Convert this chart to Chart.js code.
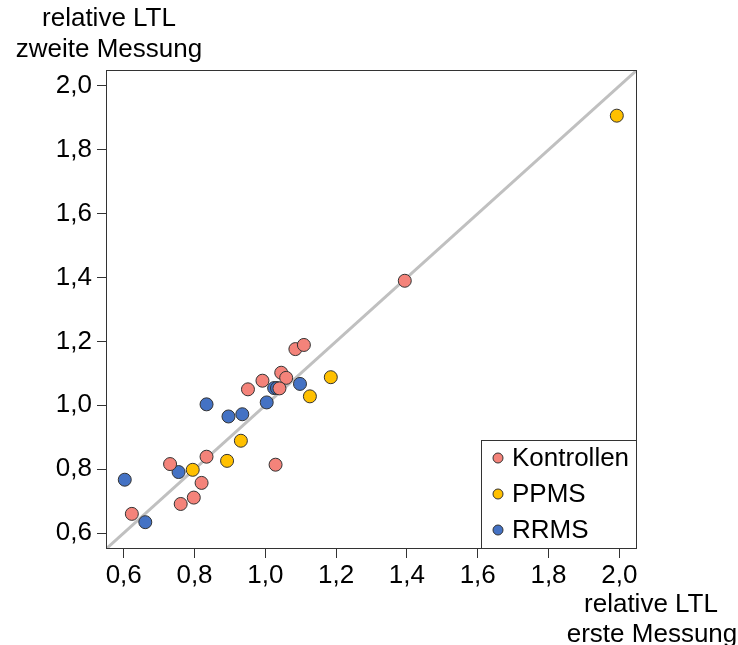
<!DOCTYPE html>
<html>
<head>
<meta charset="utf-8">
<script src="https://cdn.jsdelivr.net/npm/chart.js@4.4.1/dist/chart.umd.min.js"></script>
<style>
  html, body { margin: 0; padding: 0; background: #fff; }
  #wrap { width: 738px; height: 645px; }
</style>
</head>
<body>
<div id="wrap"><canvas id="myChart" width="738" height="645"></canvas></div>
<script>
// values
const kontrollenX = [1.394, 1.085, 1.109, 1.045, 1.059, 0.992, 0.951, 1.040, 0.731, 0.834, 1.029, 0.820, 0.798, 0.761, 0.623];
const kontrollenY = [1.390, 1.176, 1.189, 1.102, 1.086, 1.077, 1.050, 1.053, 0.816, 0.839, 0.814, 0.757, 0.711, 0.691, 0.660];
const ppmsX = [1.993, 1.185, 1.126, 0.931, 0.892, 0.795];
const ppmsY = [1.907, 1.088, 1.028, 0.889, 0.826, 0.798];
const rrmsX = [1.098, 1.025, 1.033, 1.004, 0.935, 0.896, 0.834, 0.755, 0.603, 0.661];
const rrmsY = [1.067, 1.054, 1.054, 1.009, 0.972, 0.965, 1.003, 0.791, 0.767, 0.634];
const seriesNames = ["Kontrollen", "PPMS", "RRMS"];
const seriesColors = ["#F4837A", "#FFC000", "#4472C4"];
const tickValues = [0.6, 0.8, 1.0, 1.2, 1.4, 1.6, 1.8, 2.0];
const axisMin = 0.55;
const axisMax = 2.05;
const diagonal = [axisMin, axisMax];

const FONT = "Liberation Sans, Arial, sans-serif";

function toPoints(xs, ys) {
  return xs.map(function(x, i) { return { x: x, y: ys[i] }; });
}

// frame, axis titles and legend box
const extras = {
  id: "extras",
  afterDraw: function(chart) {
    const ctx = chart.ctx;
    const a = chart.chartArea;
    ctx.save();
    ctx.strokeStyle = "#333";
    ctx.lineWidth = 1;
    ctx.strokeRect(a.left + 0.5, a.top + 0.5, a.right - a.left - 1, a.bottom - a.top - 1);

    ctx.fillStyle = "#000";
    ctx.font = "26px " + FONT;
    ctx.textBaseline = "middle";
    ctx.textAlign = "center";
    ctx.fillText("relative LTL", 109, 19);
    ctx.fillText("zweite Messung", 109, 50);
    ctx.fillText("relative LTL", 651, 605);
    ctx.fillText("erste Messung", 652, 635);

    // legend
    const lx = 481, ly = 440, lw = a.right - lx, lh = a.bottom - ly;
    ctx.fillStyle = "#fff";
    ctx.fillRect(lx, ly, lw, lh);
    ctx.strokeRect(lx + 0.5, ly + 0.5, lw - 1, lh - 1);
    seriesNames.forEach(function(name, i) {
      const cy = 458 + i * 36;
      ctx.beginPath();
      ctx.arc(498, cy, 5, 0, Math.PI * 2);
      ctx.fillStyle = seriesColors[i];
      ctx.fill();
      ctx.strokeStyle = "#333";
      ctx.stroke();
      ctx.fillStyle = "#000";
      ctx.textAlign = "left";
      ctx.fillText(name, 512, cy + 1);
    });
    ctx.restore();
  }
};

function axisOptions(isX) {
  return {
    type: "linear",
    min: axisMin,
    max: axisMax,
    border: { display: false },
    grid: { display: true, drawOnChartArea: false, drawTicks: true, tickLength: 9, color: "#333" },
    ticks: {
      color: "#000",
      font: { family: FONT, size: 26 },
      padding: isX ? 2 : 5,
      callback: function(v) { return v.toFixed(1).replace(".", ","); }
    },
    afterBuildTicks: function(scale) {
      scale.ticks = tickValues.map(function(v) { return { value: v }; });
    },
    afterFit: function(scale) {
      if (isX) { scale.height = 96; } else { scale.width = 106; }
    }
  };
}

const pointStyle = function(i) {
  return {
    backgroundColor: seriesColors[i],
    borderColor: "#333",
    borderWidth: 1,
    pointRadius: 6.5,
    pointHoverRadius: 6.5
  };
};

new Chart(document.getElementById("myChart").getContext("2d"), {
  type: "scatter",
  data: {
    datasets: [
      Object.assign({ label: seriesNames[0], data: toPoints(kontrollenX, kontrollenY) }, pointStyle(0)),
      Object.assign({ label: seriesNames[1], data: toPoints(ppmsX, ppmsY) }, pointStyle(1)),
      Object.assign({ label: seriesNames[2], data: toPoints(rrmsX, rrmsY) }, pointStyle(2)),
      {
        label: "diagonal",
        data: toPoints(diagonal, diagonal),
        showLine: true,
        borderColor: "#C0C0C0",
        borderWidth: 3,
        pointRadius: 0
      }
    ]
  },
  options: {
    responsive: false,
    animation: false,
    layout: { padding: { left: 0, top: 70, right: 101, bottom: 0 } },
    plugins: { legend: { display: false }, tooltip: { enabled: false } },
    scales: { x: axisOptions(true), y: axisOptions(false) }
  },
  plugins: [extras]
});
</script>
</body>
</html>
